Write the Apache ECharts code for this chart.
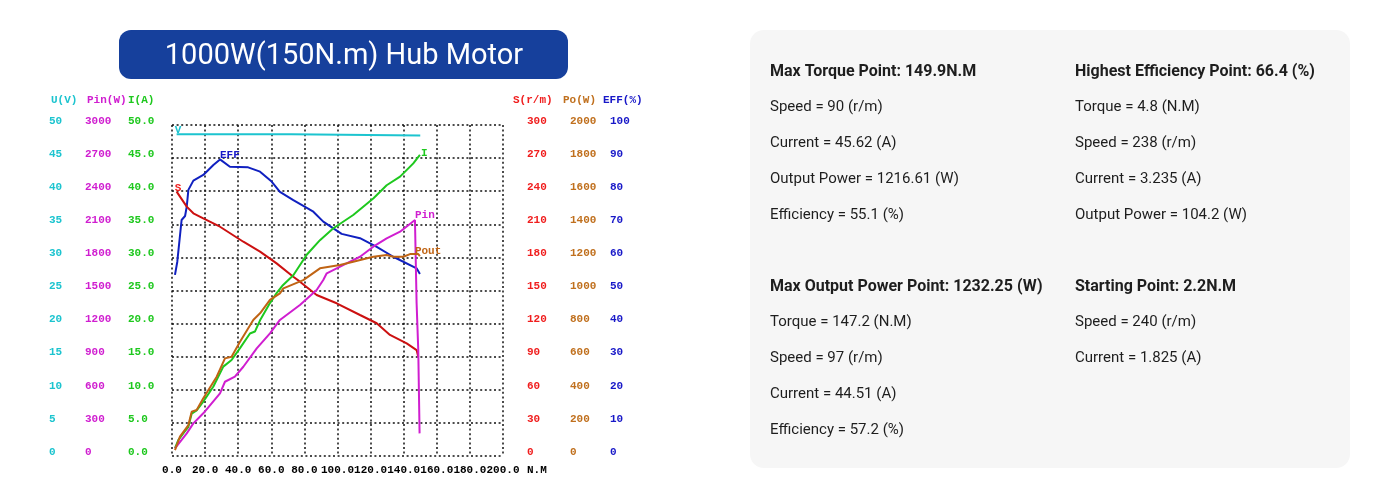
<!DOCTYPE html>
<html><head><meta charset="utf-8">
<script src="https://cdn.jsdelivr.net/npm/echarts@6/dist/echarts.min.js"></script>
<style>html,body{margin:0;padding:0;background:#fff;} #c{width:1400px;height:500px;}</style>
</head><body><div id="c"></div>
<script>
// ---- chart data (torque N.m, value) ----
const voltageCurve = [[2.8,48.6],[72,48.6],[73,48.4],[150,48.4]];
const effCurve = [[1.8,54.7],[3.2,58.7],[5.8,71.3],[7.9,72.5],[8.9,75.3],[9.9,80.4],[12.9,83.2],[18.9,84.9],[25,87.9],[29,89.6],[35,87.4],[46,87.2],[53.2,85.9],[60.2,82.9],[65.2,79.8],[73.3,77.3],[85.4,73.8],[91.4,70.8],[102.5,67.1],[113.6,65.8],[123.7,63.2],[133.7,60.2],[147.8,56.7],[149.8,55.0]];
const speedCurve = [[2.8,239.6],[8.9,226],[12.9,220],[18.9,215.4],[29,207.8],[43.1,194.2],[53.2,185.2],[63.2,174.6],[73.3,162.5],[77.3,158],[87.4,145.9],[99.5,138.4],[113.6,127.8],[123.7,120.3],[131.7,109.7],[141.8,102.1],[147.8,96],[148.8,90]];
const currentCurve = [[1.8,1.2],[3.8,2.4],[6.8,3.4],[9.9,4.4],[11.9,6.4],[14.9,6.9],[18.9,8.2],[25,10.5],[31,13.5],[36,14.5],[41.1,16.3],[47.1,18.5],[50.1,18.8],[53.2,20.5],[59.2,23.1],[63.2,24.6],[67,25.8],[73.3,27.3],[81.4,30.4],[89.4,32.6],[97.5,34.4],[109.5,36.4],[121.6,38.9],[129.7,40.9],[137.8,42.2],[145.8,44.2],[149.8,45.5]];
const pinCurve = [[1.8,70],[8.9,205],[12.9,296],[18.9,387],[29,568],[32,673],[38,719],[43.1,809],[51.2,976],[59.2,1112],[65.2,1233],[77.3,1369],[87.4,1505],[91.4,1595],[93.5,1656],[105.5,1746],[113.6,1806],[121.6,1897],[129.7,1973],[137.8,2033],[146.8,2139],[147.6,2130],[147.8,1384],[148.8,961],[149.6,205]];
const poutCurve = [[1.8,36],[4.8,117],[9.9,187],[11.9,268],[14.9,278],[18.9,349],[27,479],[32,590],[36,600],[41.1,690],[49.1,822],[53.2,862],[59.2,943],[65.2,983],[67.3,1013],[79.3,1063],[89.4,1134],[101.5,1154],[109.5,1174],[121.6,1204],[129.7,1214],[133.7,1204],[139.8,1204],[143.8,1220],[148.8,1220],[149.8,1208]];

// ---- axes ----
const xRange = [0, 200, 20];
const xUnit = 'N.M';
const leftAxisNames = ['U(V)', 'Pin(W)', 'I(A)'];
const leftAxisMax = [50, 3000, 50];
const leftAxisStep = [5, 300, 5];
const leftAxisDecimals = [0, 0, 1];
const rightAxisNames = ['S(r/m)', 'Po(W)', 'EFF(%)'];
const rightAxisMax = [300, 2000, 100];
const rightAxisStep = [30, 200, 10];
const seriesNames = ['V', 'EFF', 'S', 'I', 'Pin', 'Pout'];

// ---- info panel text ----
const titleText = '1000W(150N.m) Hub Motor';
const maxTorqueLines = ['Max Torque Point: 149.9N.M', 'Speed = 90 (r/m)', 'Current = 45.62 (A)', 'Output Power = 1216.61 (W)', 'Efficiency = 55.1 (%)'];
const highestEffLines = ['Highest Efficiency Point: 66.4 (%)', 'Torque = 4.8 (N.M)', 'Speed = 238 (r/m)', 'Current = 3.235 (A)', 'Output Power = 104.2 (W)'];
const maxPowerLines = ['Max Output Power Point: 1232.25 (W)', 'Torque = 147.2 (N.M)', 'Speed = 97 (r/m)', 'Current = 44.51 (A)', 'Efficiency = 57.2 (%)'];
const startingLines = ['Starting Point: 2.2N.M', 'Speed = 240 (r/m)', 'Current = 1.825 (A)'];

// ---- styling ----
const C = {U:'#1cc4cf', Pin:'#d01ed0', I:'#1ec81e', S:'#f01e1e', Sline:'#cc1010', Po:'#c0701e', Pout:'#c06414', EFF:'#1818c8', Eline:'#1020c0'};
const leftColors = [C.U, C.Pin, C.I];
const rightColors = [C.S, C.Po, C.EFF];
const mono = 'Liberation Mono';
const G = {left:172, top:125, w:331, h:331};
const leftLabelX = [49, 85, 128];
const leftNameShift = [2, 2, 0];
const rightLabelX = [527, 570, 610];
const rightNameShift = [-14, -7, -7];

const yAxes = [];
leftAxisNames.forEach((n, i) => {
  yAxes.push({
    type:'value', position:'left', offset: G.left - leftLabelX[i],
    min:0, max:leftAxisMax[i], interval:leftAxisStep[i],
    name:n, nameLocation:'end', nameGap:19, nameMoveOverlap:false,
    nameTextStyle:{color:leftColors[i], fontFamily:mono, fontSize:11, fontWeight:'bold', align:'left', padding:[0,0,0,leftNameShift[i]]},
    axisLine:{show:false, onZero:false}, axisTick:{show:false},
    axisLabel:{inside:true, margin:0, color:leftColors[i], fontFamily:mono, fontSize:11, fontWeight:'bold', verticalAlign:'bottom', lineHeight:8,
      formatter: v => v.toFixed(leftAxisDecimals[i])},
    splitLine: i === 0 ? {show:true, lineStyle:{color:'#111', width:1.5, type:[2,2.6]}} : {show:false}
  });
});
rightAxisNames.forEach((n, i) => {
  yAxes.push({
    type:'value', position:'right', offset: rightLabelX[i] - (G.left + G.w),
    min:0, max:rightAxisMax[i], interval:rightAxisStep[i],
    name:n, nameLocation:'end', nameGap:19, nameMoveOverlap:false,
    nameTextStyle:{color:rightColors[i], fontFamily:mono, fontSize:11, fontWeight:'bold', align:'left', padding:[0,0,0,rightNameShift[i]]},
    axisLine:{show:false, onZero:false}, axisTick:{show:false},
    axisLabel:{margin:0, color:rightColors[i], fontFamily:mono, fontSize:11, fontWeight:'bold', verticalAlign:'bottom', lineHeight:8,
      formatter: v => String(v)},
    splitLine:{show:false}
  });
});

function tagLabel(color, offset) {
  return {show:true, formatter:'{a}', position:'top', align:'left', distance:0, offset:offset,
    color:color, fontFamily:mono, fontSize:11, fontWeight:'bold'};
}
function lineSeries(name, curve, yIdx, color, labelIdx, labelColor, offset) {
  const data = curve.map((p, k) => k === labelIdx ? {value:p, label:tagLabel(labelColor, offset)} : p);
  return {name, type:'line', yAxisIndex:yIdx, data, showSymbol:true, showAllSymbol:true, symbol:'circle', symbolSize:0, silent:true,
    label:{show:false}, lineStyle:{color, width:2}, itemStyle:{color}, animation:false, z:3};
}
function argMax(curve){ let m=0; curve.forEach((p,k)=>{ if(p[1]>curve[m][1]) m=k; }); return m; }

const series = [
  lineSeries(seriesNames[0], voltageCurve, 0, C.U, 0, C.U, [-2,1]),
  lineSeries(seriesNames[1], effCurve, 5, C.Eline, argMax(effCurve), C.EFF, [0,1]),
  lineSeries(seriesNames[2], speedCurve, 3, C.Sline, 0, C.S, [-2,2]),
  lineSeries(seriesNames[3], currentCurve, 2, C.I, currentCurve.length-1, C.I, [1,4]),
  lineSeries(seriesNames[4], pinCurve, 1, C.Pin, argMax(pinCurve), C.Pin, [0,1]),
  lineSeries(seriesNames[5], poutCurve, 4, C.Pout, poutCurve.length-1, C.Pout, [-5,1])
];

// graphic: title + info panel
const graphic = [
  {type:'rect', shape:{x:119, y:30, width:449, height:49, r:12}, style:{fill:'#16409c'}, silent:true},
  {type:'text', x:344, y:57, silent:true, style:{text:titleText, fill:'#fff', font:'29px Roboto', align:'center', verticalAlign:'middle', textAlign:'center', textVerticalAlign:'middle'}},
  {type:'rect', shape:{x:750, y:30, width:600, height:438, r:14}, style:{fill:'#f6f6f6'}, silent:true}
];
function addBlock(lines, x, y0) {
  lines.forEach((t, k) => {
    graphic.push({type:'text', x:x, y:y0 + k*36, silent:true,
      style:{text:t, fill:'#1e1e1e', font:(k===0?'bold 16px Roboto':'15px Roboto'), align:'left', verticalAlign:'middle', textAlign:'left', textVerticalAlign:'middle'}});
  });
}
addBlock(maxTorqueLines, 770, 71.5);
addBlock(highestEffLines, 1075, 71.5);
addBlock(maxPowerLines, 770, 286.5);
addBlock(startingLines, 1075, 286.5);

const chart = echarts.init(document.getElementById('c'), null, {renderer:'canvas'});
chart.setOption({
  animation:false,
  backgroundColor:'#fff',
  grid:{left:G.left, top:G.top, width:G.w, height:G.h, containLabel:false},
  xAxis:{type:'value', min:xRange[0], max:xRange[1], interval:xRange[2],
    name:xUnit, nameLocation:'end', nameGap:24, nameMoveOverlap:false,
    nameTextStyle:{color:'#000', fontFamily:mono, fontSize:11, fontWeight:'bold', verticalAlign:'top', padding:[9,0,0,0]},
    axisLine:{show:false, onZero:false}, axisTick:{show:false},
    axisLabel:{margin:9, color:'#000', fontFamily:mono, fontSize:11, fontWeight:'bold', hideOverlap:false, showMinLabel:true, showMaxLabel:true,
      formatter: v => v.toFixed(1)},
    splitLine:{show:true, lineStyle:{color:'#111', width:1.5, type:[2,2.6]}}},
  yAxis:yAxes,
  series:series,
  graphic:graphic
});
</script></body></html>
